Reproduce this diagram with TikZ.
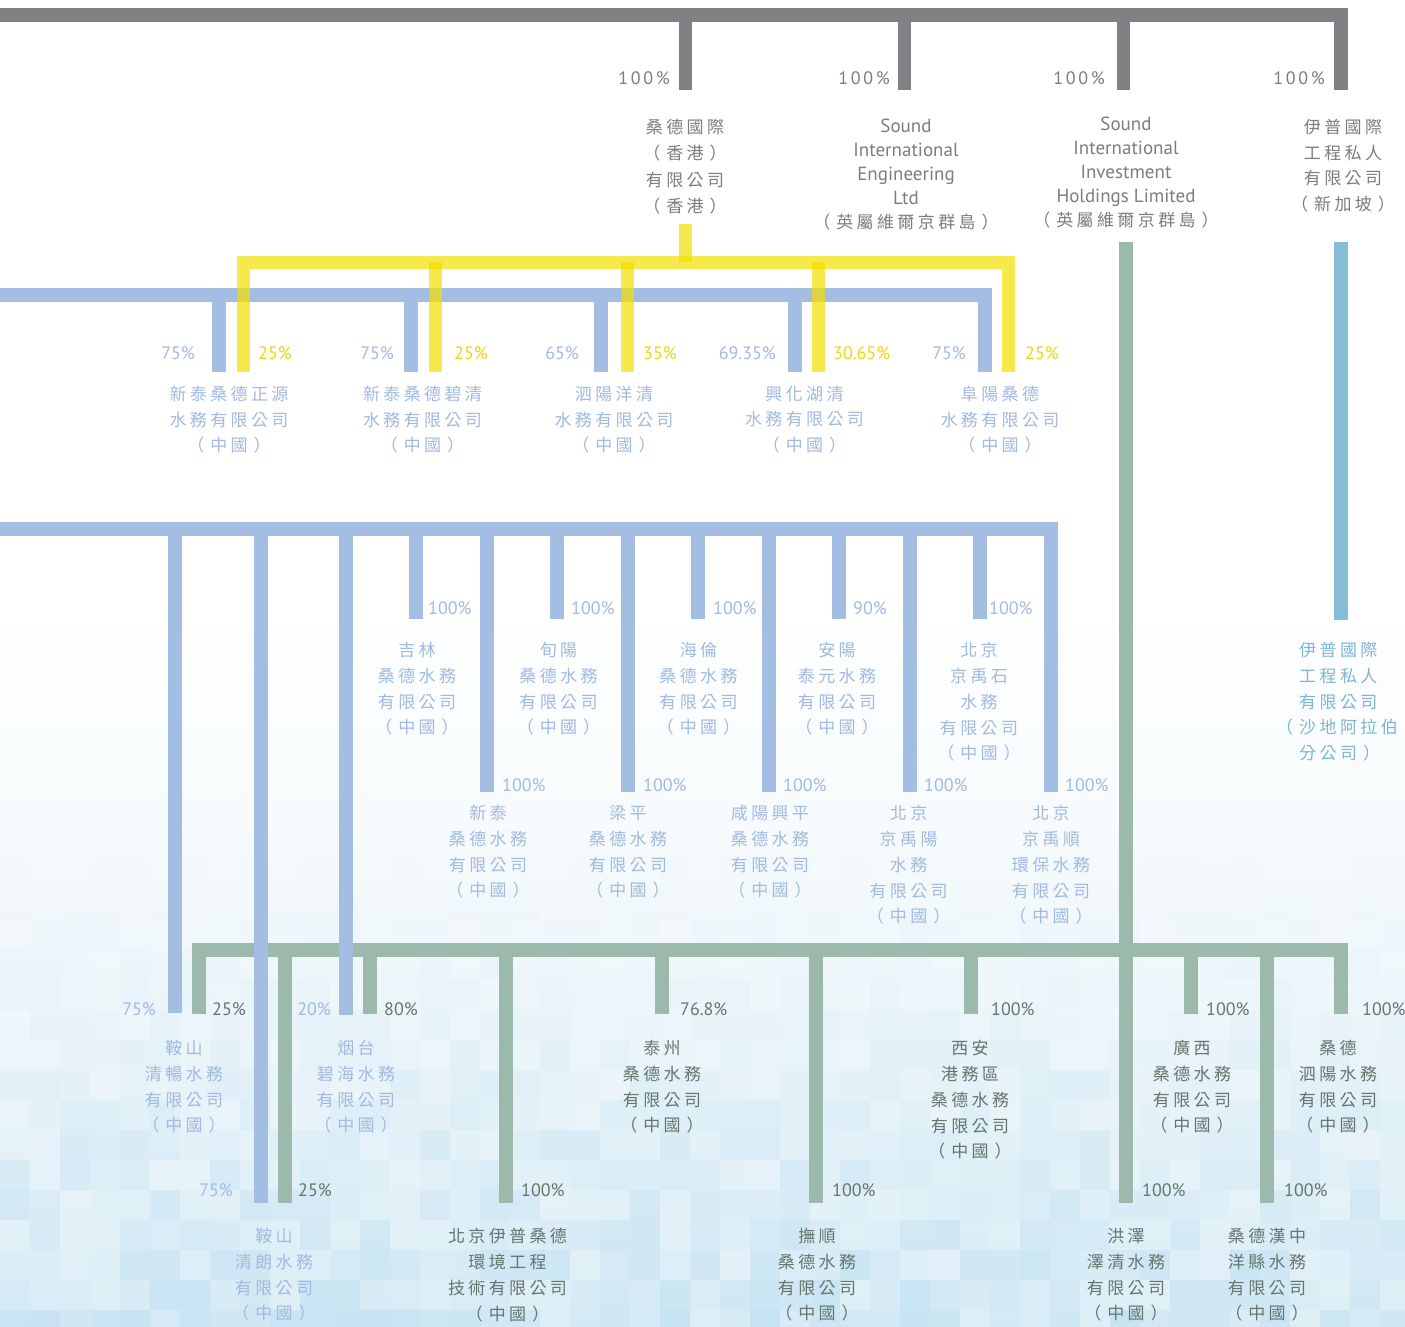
\documentclass[tikz,border=0pt]{standalone}
\usepackage{fontspec}
\newfontfamily\cjk[LetterSpace=20]{Noto Sans CJK TC}
\newfontfamily\pct{PT Sans}
\newfontfamily\pctw[LetterSpace=15]{PT Sans}
\newcommand\lp{（\hspace{6pt}}
\newcommand\rp{\hspace{6pt}）}
\definecolor{cgray}{HTML}{808184}
\definecolor{cgraytext}{HTML}{7B7D80}
\definecolor{cblue}{HTML}{A4BDE2}
\definecolor{cbluetext}{HTML}{A2B9E0}
\definecolor{cyellow}{HTML}{F3E000}
\definecolor{cyellowtext}{HTML}{EFD60A}
\definecolor{cgreen}{HTML}{9BBAAB}
\definecolor{cgreentext}{HTML}{66756E}
\definecolor{clblue}{HTML}{86BDD9}
\definecolor{clbluetext}{HTML}{7FB5D2}
\definecolor{cmosaic}{HTML}{B9DDF0}
\definecolor{cbg}{HTML}{E4F2F8}
\begin{document}
\begin{tikzpicture}[x=1pt,y=-1pt,
  bar/.style={line width=14pt, line cap=butt, line join=miter},
  gbar/.style={bar, draw=cgray},
  gvert/.style={line width=13pt, line cap=butt, draw=cgray},
  bbar/.style={bar, draw=cblue},
  ybar/.style={line width=13pt, line cap=butt, line join=miter, draw=cyellow, draw opacity=0.7},
  grbar/.style={bar, draw=cgreen},
  lbbar/.style={bar, draw=clblue},
  lab/.style={inner sep=0pt, anchor=north, align=center, font=\cjk\fontsize{17}{25.8}\selectfont},
  blab/.style={lab, text=cbluetext},
  grlab/.style={lab, text=cgreentext},
  pc/.style={inner sep=0pt, font=\pct\fontsize{18}{20}\selectfont},
  pcb/.style={pc, text=cbluetext},
  pcy/.style={pc, text=cyellowtext},
  pcg/.style={pc, text=cgreentext},
  pct/.style={inner sep=0pt, font=\pctw\fontsize{18}{20}\selectfont, text=cgraytext, anchor=east}
]
\useasboundingbox (0,0) rectangle (1405,1326);
% background
\fill[white] (0,0) rectangle (1405,1326);
\fill[top color=white, bottom color=cbg] (0,600) rectangle (1405,1326);
\pgfmathsetseed{12}
\foreach \i in {0,...,46}{\foreach \j in {0,...,17}{
  \pgfmathsetmacro\op{(rnd*0.6+0.1)*(\j/17)^1.5}
  \fill[cmosaic, fill opacity=\op] (\i*30,800+\j*30) rectangle ++(30,30);
}}

% coordinates
\coordinate (gL) at (0,15);
\coordinate (gR) at (1341,15);
% gray top bus
\draw[gbar] (gL) -- (gR) -- (1341,90);
\foreach \x in {685,904,1123} \draw[gvert] (\x,15) -- (\x,90);

% blue upper bus
\draw[bbar] (0,295) -- (985,295) -- (985,372);
\foreach \x in {219,411,601,795} \draw[bbar] (\x,295) -- (\x,372);

% yellow bus
\draw[ybar] (685,224) -- (685,262);
\draw[ybar] (243.5,372) -- (243.5,262) -- (1008.5,262) -- (1008.5,372);
\foreach \x in {435,627,818} \draw[ybar] (\x,262) -- (\x,372);

% green trunk and light blue trunk
\draw[grbar] (1126,242) -- (1126,1203);
\draw[lbbar] (1341,242) -- (1341,620);

% green bottom bus
\draw[grbar] (199,1014) -- (199,950) -- (1341,950) -- (1341,1014);
\foreach \x in {370,662,971,1191} \draw[grbar] (\x,950) -- (\x,1014);
\foreach \x in {285,506,816,1267} \draw[grbar] (\x,950) -- (\x,1203);

% blue middle bus
\draw[bbar] (0,529) -- (1051,529) -- (1051,792);
\foreach \x in {416,557,698,839,980} \draw[bbar] (\x,529) -- (\x,619);
\foreach \x in {487,628,769,910} \draw[bbar] (\x,529) -- (\x,792);
\draw[bbar] (175,529) -- (175,1013);
\draw[bbar] (261,529) -- (261,1203);
\draw[bbar] (346,529) -- (346,1015);

% top percentages
\node[pct] (pt1) at (670,78) {100\%};
\node[pct] (pt2) at (890,78) {100\%};
\node[pct] (pt3) at (1105,78) {100\%};
\node[pct] (pt4) at (1325,78) {100\%};

% top labels
\node[lab, text=cgraytext, font=\cjk\fontsize{17}{26.3}\selectfont] (t1) at (685,119) {桑德國際\\\lp 香港\rp\\有限公司\\\lp 香港\rp};
\node[lab, text=cgraytext, font=\pct\fontsize{19}{24}\selectfont] (t2) at (906,119) {Sound\\International\\Engineering\\Ltd\\{\cjk\fontsize{17}{24}\selectfont \lp 英屬維爾京群島\rp}};
\node[lab, text=cgraytext, font=\pct\fontsize{19}{24}\selectfont] (t3) at (1126,117) {Sound\\International\\Investment\\Holdings Limited\\{\cjk\fontsize{17}{24}\selectfont \lp 英屬維爾京群島\rp}};
\node[lab, text=cgraytext, font=\cjk\fontsize{17}{25.7}\selectfont] (t4) at (1343,119) {伊普國際\\工程私人\\有限公司\\\lp 新加坡\rp};

% upper percentages
\node[pcb, anchor=east] (pu1a) at (195,353) {75\%};
\node[pcy, anchor=west] (pu1b) at (258,353) {25\%};
\node[pcb, anchor=east] (pu2a) at (394,353) {75\%};
\node[pcy, anchor=west] (pu2b) at (454,353) {25\%};
\node[pcb, anchor=east] (pu3a) at (579,353) {65\%};
\node[pcy, anchor=west] (pu3b) at (643,353) {35\%};
\node[pcb, anchor=east] (pu4a) at (776,353) {69.35\%};
\node[pcy, anchor=west] (pu4b) at (833,353) {30.65\%};
\node[pcb, anchor=east] (pu5a) at (966,353) {75\%};
\node[pcy, anchor=west] (pu5b) at (1025,353) {25\%};

% upper labels
\node[blab, font=\cjk\fontsize{17}{25.5}\selectfont] (u1) at (229,386) {新泰桑德正源\\水務有限公司\\\lp 中國\rp};
\node[blab, font=\cjk\fontsize{17}{25.5}\selectfont] (u2) at (422.5,386) {新泰桑德碧清\\水務有限公司\\\lp 中國\rp};
\node[blab, font=\cjk\fontsize{17}{25.5}\selectfont] (u3) at (614,386) {泗陽洋清\\水務有限公司\\\lp 中國\rp};
\node[blab, font=\cjk\fontsize{17}{25.5}\selectfont] (u4) at (804.5,386) {興化湖清\\水務有限公司\\\lp 中國\rp};
\node[blab, font=\cjk\fontsize{17}{25.5}\selectfont] (u5) at (1000,386) {阜陽桑德\\水務有限公司\\\lp 中國\rp};

% middle percentages
\node[pcb, anchor=west] (pm1) at (428,608) {100\%};
\node[pcb, anchor=west] (pm2) at (571,608) {100\%};
\node[pcb, anchor=west] (pm3) at (713,608) {100\%};
\node[pcb, anchor=west] (pm4) at (853,608) {90\%};
\node[pcb, anchor=west] (pm5) at (989,608) {100\%};
\node[pcb, anchor=west] (pm6) at (502,785) {100\%};
\node[pcb, anchor=west] (pm7) at (643,785) {100\%};
\node[pcb, anchor=west] (pm8) at (783,785) {100\%};
\node[pcb, anchor=west] (pm9) at (924,785) {100\%};
\node[pcb, anchor=west] (pm10) at (1065,785) {100\%};

% middle labels
\node[blab] (m1) at (417,642) {吉林\\桑德水務\\有限公司\\\lp 中國\rp};
\node[blab] (m2) at (558.5,642) {旬陽\\桑德水務\\有限公司\\\lp 中國\rp};
\node[blab] (m3) at (698.5,642) {海倫\\桑德水務\\有限公司\\\lp 中國\rp};
\node[blab] (m4) at (837,642) {安陽\\泰元水務\\有限公司\\\lp 中國\rp};
\node[blab] (m5) at (979,642) {北京\\京禹石\\水務\\有限公司\\\lp 中國\rp};
\node[blab] (m6) at (488,805) {新泰\\桑德水務\\有限公司\\\lp 中國\rp};
\node[blab] (m7) at (628,805) {梁平\\桑德水務\\有限公司\\\lp 中國\rp};
\node[blab] (m8) at (770,805) {咸陽興平\\桑德水務\\有限公司\\\lp 中國\rp};
\node[blab] (m9) at (908.6,805) {北京\\京禹陽\\水務\\有限公司\\\lp 中國\rp};
\node[blab] (m10) at (1051,805) {北京\\京禹順\\環保水務\\有限公司\\\lp 中國\rp};

% Saudi branch
\node[lab, align=left, anchor=north west, text=clbluetext, font=\cjk\fontsize{17}{25.8}\selectfont] (s1) at (1299,642) {伊普國際\\工程私人\\有限公司\\\llap{\lp}沙地阿拉伯\\分公司\rp};

% bottom percentages
\node[pcb, anchor=east] (pb1a) at (156,1009) {75\%};
\node[pcg, anchor=west] (pb1b) at (212,1009) {25\%};
\node[pcb, anchor=east] (pb2a) at (331,1009) {20\%};
\node[pcg, anchor=west] (pb2b) at (384,1009) {80\%};
\node[pcg, anchor=west] (pb3) at (680,1009) {76.8\%};
\node[pcg, anchor=west] (pb4) at (991,1009) {100\%};
\node[pcg, anchor=west] (pb5) at (1206,1009) {100\%};
\node[pcg, anchor=west] (pb6) at (1362,1009) {100\%};
\node[pcb, anchor=east] (pb7a) at (233,1190) {75\%};
\node[pcg, anchor=west] (pb7b) at (298,1190) {25\%};
\node[pcg, anchor=west] (pb8) at (521,1190) {100\%};
\node[pcg, anchor=west] (pb9) at (832,1190) {100\%};
\node[pcg, anchor=west] (pb10) at (1142,1190) {100\%};
\node[pcg, anchor=west] (pb11) at (1284,1190) {100\%};

% bottom labels
\node[blab] (b1) at (184,1040) {鞍山\\清暢水務\\有限公司\\\lp 中國\rp};
\node[blab] (b2) at (356,1040) {烟台\\碧海水務\\有限公司\\\lp 中國\rp};
\node[grlab] (b3) at (662,1040) {泰州\\桑德水務\\有限公司\\\lp 中國\rp};
\node[grlab] (b4) at (970,1040) {西安\\港務區\\桑德水務\\有限公司\\\lp 中國\rp};
\node[grlab] (b5) at (1192,1040) {廣西\\桑德水務\\有限公司\\\lp 中國\rp};
\node[grlab] (b6) at (1338,1040) {桑德\\泗陽水務\\有限公司\\\lp 中國\rp};
\node[blab] (b7) at (274,1228) {鞍山\\清朗水務\\有限公司\\\lp 中國\rp};
\node[grlab] (b8) at (507.5,1228) {北京伊普桑德\\環境工程\\技術有限公司\\\lp 中國\rp};
\node[grlab] (b9) at (817,1228) {撫順\\桑德水務\\有限公司\\\lp 中國\rp};
\node[grlab] (b10) at (1126,1228) {洪澤\\澤清水務\\有限公司\\\lp 中國\rp};
\node[grlab] (b11) at (1267,1228) {桑德漢中\\洋縣水務\\有限公司\\\lp 中國\rp};
\end{tikzpicture}
\end{document}
